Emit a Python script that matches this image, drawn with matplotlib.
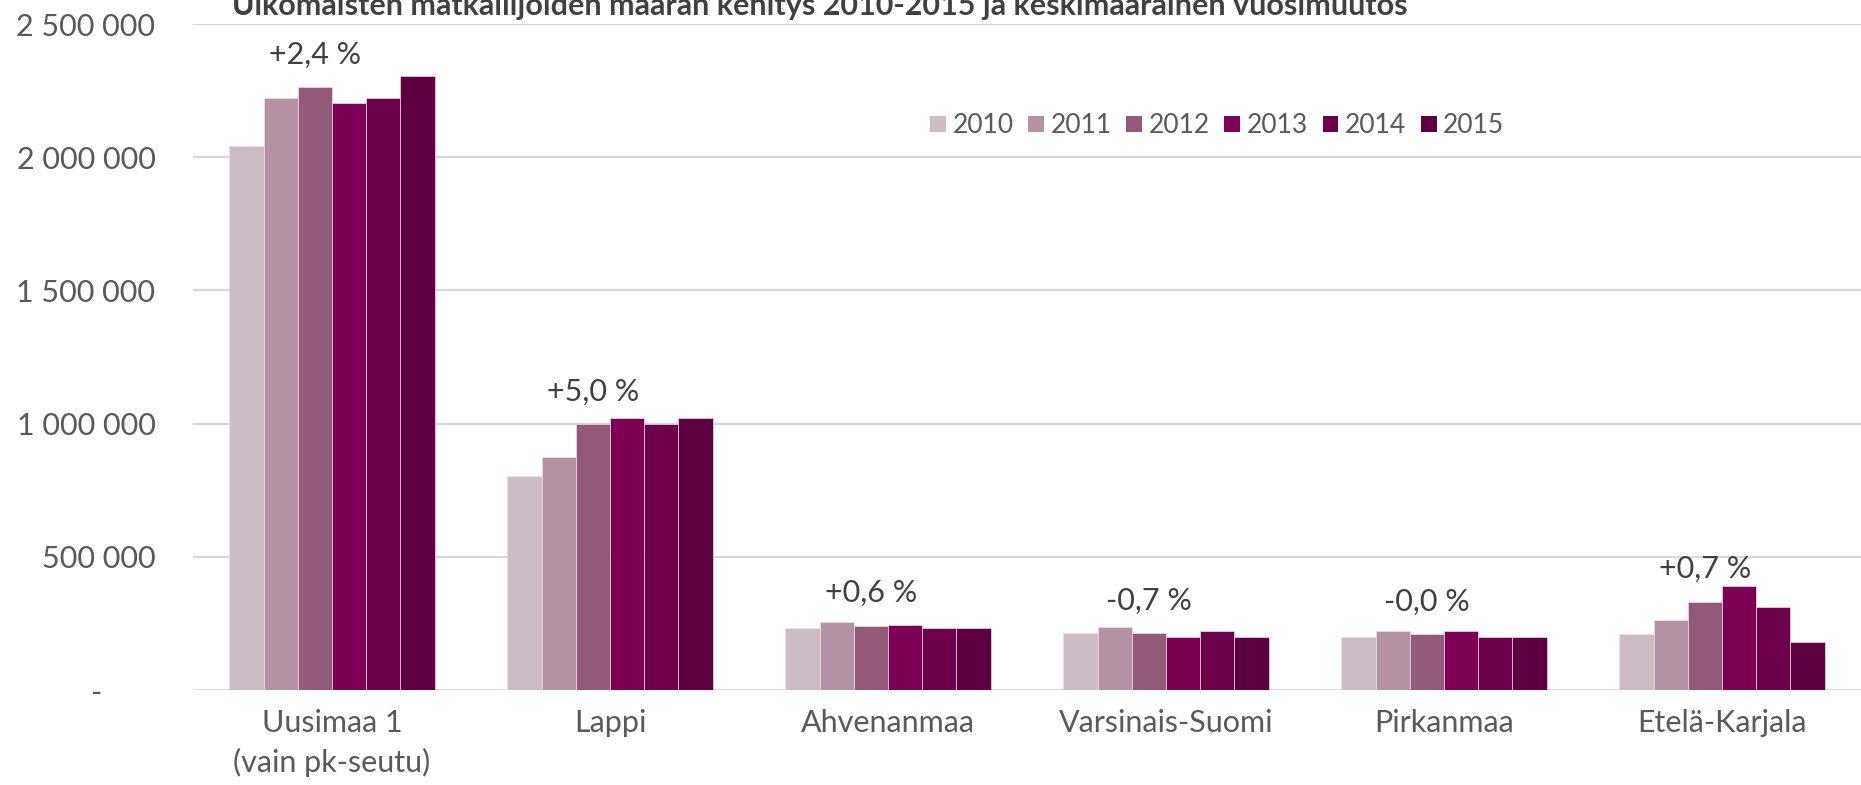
import matplotlib
matplotlib.use('Agg')
import matplotlib.pyplot as plt
import numpy as np
from matplotlib.patches import Patch
from matplotlib.ticker import FuncFormatter, MultipleLocator

# 数据
regions = ['Uusimaa 1\n(vain pk-seutu)', 'Lappi', 'Ahvenanmaa',
           'Varsinais-Suomi', 'Pirkanmaa', 'Etelä-Karjala']
years = ['2010', '2011', '2012', '2013', '2014', '2015']
v2010 = [2043000, 802000, 232000, 214000, 200000, 210000]
v2011 = [2223000, 873000, 254000, 236000, 221000, 262000]
v2012 = [2263000, 998000, 241000, 214000, 210000, 331000]
v2013 = [2203000, 1020000, 245000, 200000, 221000, 391000]
v2014 = [2223000, 998000, 232000, 223000, 200000, 312000]
v2015 = [2305000, 1020000, 232000, 200000, 200000, 181000]
change_labels = ['+2,4 %', '+5,0 %', '+0,6 %', '-0,7 %', '-0,0 %', '+0,7 %']

colors = ['#ccbcc6', '#b393a3', '#945a7a', '#7d0054', '#6c004b', '#5c0040']
title = 'Ulkomaisten matkailijoiden määrän kehitys 2010-2015 ja keskimääräinen vuosimuutos'

plt.rcParams['font.family'] = ['Lato', 'DejaVu Sans']
grey = '#595959'

fig = plt.figure(figsize=(18.61, 7.85), dpi=100)
ax = fig.add_axes([193 / 1861, 1 - 690 / 785, 1 - 193 / 1861, 666 / 785])

series = [v2010, v2011, v2012, v2013, v2014, v2015]
x = np.arange(len(regions))
bar_w = 0.123
for i, vals in enumerate(series):
    offs = (i - 2.5) * bar_w
    ax.bar(x + offs, vals, width=bar_w, color=colors[i],
           edgecolor='#eadfe5', linewidth=0.5, zorder=3)

# 平均变化标签，位于 2012 柱子上方
for k in range(len(regions)):
    ax.annotate(change_labels[k], xy=(x[k] + (2 - 2.5) * bar_w, v2012[k]),
                xytext=(0, 17), textcoords='offset points',
                ha='center', va='baseline', fontsize=22, color='#404040')

ax.set_xlim(-0.5, len(regions) - 0.5)
ax.set_ylim(0, 2500000)
ax.yaxis.set_major_locator(MultipleLocator(500000))


def fmt(v, pos):
    if v == 0:
        return '-\u2007\u2007\u2007'
    return '{:,.0f}'.format(v).replace(',', ' ')


ax.yaxis.set_major_formatter(FuncFormatter(fmt))
ax.set_xticks(x)
ax.set_xticklabels(regions, linespacing=1.45)
ax.tick_params(axis='y', length=0, pad=27, labelsize=22, labelcolor=grey)
ax.tick_params(axis='x', length=0, pad=14, labelsize=22, labelcolor=grey)

ax.grid(axis='y', color='#d9d9d9', linewidth=1.6, zorder=0)
ax.set_axisbelow(True)
for s in ax.spines.values():
    s.set_visible(False)

handles = [Patch(facecolor=c) for c in colors]
ax.legend(handles, years, ncol=6, loc='center', bbox_to_anchor=(0.614, 0.847),
          frameon=False, fontsize=19, handlelength=0.6, handleheight=0.6,
          handletextpad=0.25, columnspacing=0.55, labelcolor=grey)

fig.text(0.4406, 1 - 15 / 785, title, ha='center', va='baseline',
         fontsize=22, fontweight='bold', color='#404040')

fig.savefig('out.png', dpi=100)
